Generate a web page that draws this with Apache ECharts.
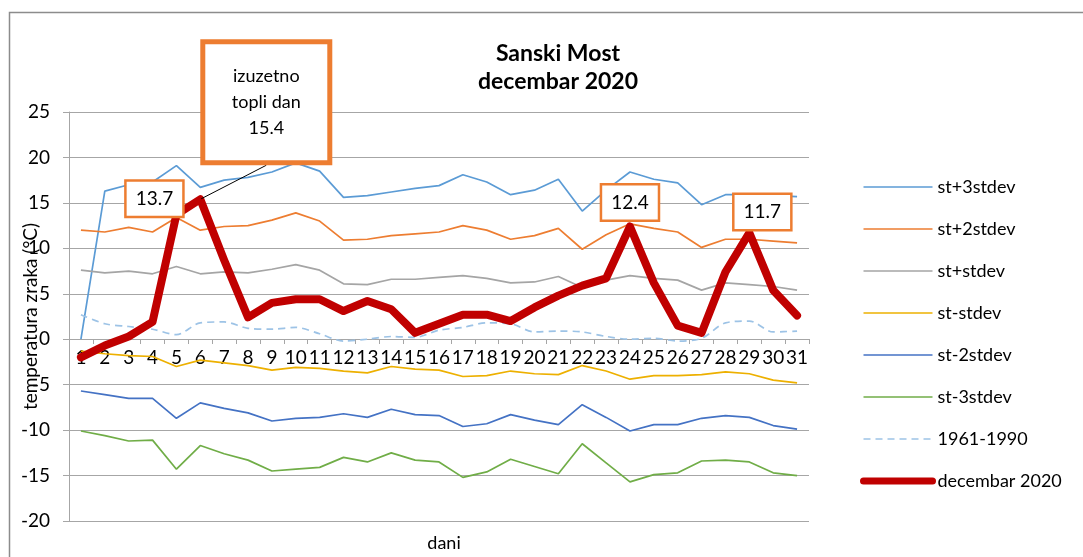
<!doctype html>
<html>
<head>
    <meta http-equiv="Content-Type" content="text/html; charset=utf-8">
    <title>Sanski Most decembar 2020</title>
    <script src="https://cdn.jsdelivr.net/npm/echarts@6/dist/echarts.min.js"></script>
    <style>
        html, body { margin: 0; padding: 0; background: #fff; }
        #chart { width: 1083px; height: 557px; }
    </style>
</head>
<body>
<div id="chart"></div>
<script type="text/javascript">

    // dani u mjesecu
    var days = ['1','2','3','4','5','6','7','8','9','10','11','12','13','14','15','16',
                '17','18','19','20','21','22','23','24','25','26','27','28','29','30','31'];

    var plus3  = [0, 16.3, 17.0, 17.3, 19.1, 16.7, 17.5, 17.8, 18.4, 19.4, 18.5, 15.6, 15.8, 16.2, 16.6, 16.9,
                  18.1, 17.3, 15.9, 16.4, 17.6, 14.1, 16.4, 18.4, 17.6, 17.2, 14.8, 15.9, 15.9, 15.8, 15.7];
    var plus2  = [12.0, 11.8, 12.3, 11.8, 13.4, 12.0, 12.4, 12.5, 13.1, 13.9, 13.0, 10.9, 11.0, 11.4, 11.6, 11.8,
                  12.5, 12.0, 11.0, 11.4, 12.2, 9.9, 11.5, 12.7, 12.2, 11.8, 10.1, 11.0, 11.0, 10.8, 10.6];
    var plus1  = [7.6, 7.3, 7.5, 7.2, 8.0, 7.2, 7.4, 7.3, 7.7, 8.2, 7.6, 6.1, 6.0, 6.6, 6.6, 6.8,
                  7.0, 6.7, 6.2, 6.3, 6.9, 5.7, 6.5, 7.0, 6.7, 6.5, 5.4, 6.2, 6.0, 5.8, 5.4];
    var minus1 = [-1.3, -1.6, -1.8, -1.9, -3.0, -2.3, -2.6, -2.9, -3.4, -3.1, -3.2, -3.5, -3.7, -3.0, -3.3, -3.4,
                  -4.1, -4.0, -3.5, -3.8, -3.9, -2.9, -3.5, -4.4, -4.0, -4.0, -3.9, -3.6, -3.8, -4.5, -4.8];
    var minus2 = [-5.7, -6.1, -6.5, -6.5, -8.7, -7.0, -7.6, -8.1, -9.0, -8.7, -8.6, -8.2, -8.6, -7.7, -8.3, -8.4,
                  -9.6, -9.3, -8.3, -8.9, -9.4, -7.2, -8.6, -10.1, -9.4, -9.4, -8.7, -8.4, -8.6, -9.5, -9.9];
    var minus3 = [-10.1, -10.6, -11.2, -11.1, -14.3, -11.7, -12.6, -13.3, -14.5, -14.3, -14.1, -13.0, -13.5, -12.5, -13.3, -13.5,
                  -15.2, -14.6, -13.2, -14.0, -14.8, -11.5, -13.6, -15.7, -14.9, -14.7, -13.4, -13.3, -13.5, -14.7, -15.0];
    var norm   = [2.7, 1.7, 1.4, 1.1, 0.5, 1.8, 1.9, 1.2, 1.1, 1.3, 0.6, -0.2, 0.0, 0.3, 0.2, 1.0,
                  1.3, 1.8, 1.7, 0.8, 0.9, 0.8, 0.3, 0.0, 0.1, -0.2, 0.1, 1.8, 2.0, 0.8, 0.9];
    var dec2020 = [-2.0, -0.7, 0.3, 1.9, 13.7, 15.4, 8.7, 2.4, 4.0, 4.4, 4.4, 3.1, 4.2, 3.3, 0.7, 1.7,
                   2.7, 2.7, 2.0, 3.5, 4.8, 5.9, 6.7, 12.4, 6.2, 1.5, 0.7, 7.4, 11.7, 5.4, 2.6];

    var FONT = 'Lato, "Noto Sans", sans-serif';
    var GRID = '#A6A6A6';

    // natpisi na pojedinim danima: indeks dana -> pomak natpisa
    var shifts = { 4: [-22, -16], 5: [66, -97], 23: [0, -24], 28: [13, -21] };

    var boxLabel = {
        show: true, position: 'inside', formatter: '{c}',
        color: '#000', fontFamily: FONT, fontSize: 19, lineHeight: 22,
        backgroundColor: '#fff', borderColor: '#ED7D31', borderWidth: 2.5, padding: [6, 9]
    };

    var redData = dec2020.map(function (v, i) {
        if (i === 5) {
            return {
                value: v,
                label: {
                    show: true, position: 'inside',
                    formatter: 'izuzetno\ntopli dan\n{c}',
                    color: '#000', fontFamily: FONT, fontSize: 18, lineHeight: 26,
                    width: 122, align: 'center', padding: [19, 0],
                    backgroundColor: '#fff', borderColor: '#ED7D31', borderWidth: 5
                },
                labelLine: { show: true, lineStyle: { color: '#000', width: 1 } }
            };
        }
        if (shifts[i]) {
            return { value: v, label: boxLabel };
        }
        return v;
    });

    function thin(name, data, color, extra) {
        return Object.assign({
            name: name, type: 'line', data: data, symbol: 'none',
            lineStyle: { color: color, width: 1.7 }, itemStyle: { color: color }
        }, extra || {});
    }

    var myChart = echarts.init(document.getElementById('chart'));
    var option = {
        animation: false,
        textStyle: { fontFamily: FONT },
        title: [
            {
                text: 'Sanski Most\ndecembar 2020', left: 553, top: 35, textAlign: 'center',
                textStyle: { fontFamily: FONT, fontSize: 23, fontWeight: 'bold', lineHeight: 28, color: '#000' }
            },
            {
                text: 'dani', left: 439, top: 529, textAlign: 'center',
                textStyle: { fontFamily: FONT, fontSize: 18, fontWeight: 'normal', color: '#000' }
            }
        ],
        graphic: [{
            type: 'rect', silent: true, z: -10,
            shape: { x: 9.5, y: 12.5, width: 1200, height: 700 },
            style: { fill: 'none', stroke: '#8c8c8c', lineWidth: 1.5 }
        }],
        legend: {
            orient: 'vertical', left: 855, top: 172,
            itemWidth: 69, itemHeight: 14, itemGap: 22,
            itemStyle: { opacity: 0, color: 'rgba(0,0,0,0)', borderWidth: 0 },
            lineStyle: { width: 1.7 },
            textStyle: { fontFamily: FONT, fontSize: 18, lineHeight: 20, color: '#000' },
            data: ['st+3stdev', 'st+2stdev', 'st+stdev', 'st-stdev', 'st-2stdev', 'st-3stdev', '1961-1990',
                   { name: 'decembar 2020', lineStyle: { width: 7, cap: 'round' } }]
        },
        grid: { left: 69, right: 274, top: 112, bottom: 36, outerBoundsMode: 'none' },
        xAxis: {
            type: 'category', data: days, boundaryGap: true,
            offset: -182,
            axisLine: { onZero: false, lineStyle: { color: GRID } },
            axisTick: { show: true, length: 5, interval: 0, lineStyle: { color: GRID } },
            axisLabel: { interval: 0, margin: 9, fontSize: 19, color: '#000', fontFamily: FONT }
        },
        yAxis: {
            type: 'value', min: -20, max: 25, interval: 5,
            name: 'temperatura zraka (°C)', nameLocation: 'middle', nameRotate: 90, nameGap: 29,
            nameMoveOverlap: false,
            nameTextStyle: { fontSize: 19, color: '#000', fontFamily: FONT },
            axisLine: { show: true, lineStyle: { color: GRID } },
            axisTick: { show: true, length: 6, lineStyle: { color: GRID } },
            axisLabel: { margin: 19, fontSize: 19, color: '#000', fontFamily: FONT },
            splitLine: { lineStyle: { color: GRID, width: 1 } }
        },
        series: [
            thin('st+3stdev', plus3, '#5B9BD5'),
            thin('st+2stdev', plus2, '#ED7D31'),
            thin('st+stdev', plus1, '#A5A5A5'),
            thin('st-stdev', minus1, '#EDB000'),
            thin('st-2stdev', minus2, '#4472C4'),
            thin('st-3stdev', minus3, '#70AD47'),
            thin('1961-1990', norm, '#9DC3E6', {
                smooth: 0.3,
                lineStyle: { color: '#9DC3E6', width: 1.7, type: [7, 5] }
            }),
            {
                name: 'decembar 2020', type: 'line', data: redData,
                symbol: 'circle', symbolSize: 2, showSymbol: true, z: 5,
                itemStyle: { color: '#C00000' },
                lineStyle: { color: '#C00000', width: 8, cap: 'round', join: 'round' },
                emphasis: { disabled: true },
                labelLayout: function (params) {
                    var s = shifts[params.dataIndex];
                    return s ? { dx: s[0], dy: s[1], hideOverlap: false } : {};
                }
            }
        ]
    };
    myChart.setOption(option);

</script>
</body>
</html>
